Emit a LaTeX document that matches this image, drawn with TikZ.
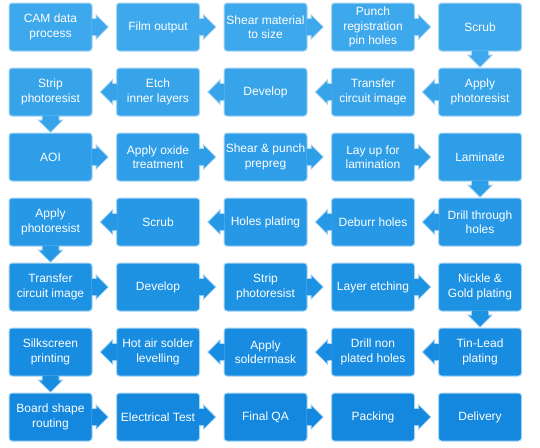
\documentclass[tikz,border=0pt]{standalone}
\usepackage{fontspec}
\setmainfont{Liberation Sans}
\usetikzlibrary{calc}
\definecolor{bd}{HTML}{A6D5F4}
\definecolor{rA}{HTML}{3DA8EB}
\definecolor{rB}{HTML}{37A4EA}
\definecolor{rC}{HTML}{2F9EE8}
\definecolor{rD}{HTML}{2698E6}
\definecolor{rE}{HTML}{1D92E3}
\definecolor{rF}{HTML}{178CE1}
\definecolor{rG}{HTML}{1388DE}
\tikzset{
  stepbox/.style={draw=bd, line width=1pt, rounded corners=3pt, minimum width=83pt, minimum height=48pt,
    align=center, text=white, font=\fontsize{12}{14.5}\selectfont, inner sep=0pt},
  arrowline/.style={draw=bd, line width=2pt, line join=miter},
}
% arrows: #1 node, #2 colour
\newcommand\arR[2]{%
  \begin{scope}[shift={(#1.east)}]
    \draw[arrowline] (0,-8) -- (4,-8) -- (4,-11) -- (15,0) -- (4,11) -- (4,8) -- (0,8);
    \fill[#2] (-1,-8) -- (4,-8) -- (4,-11) -- (15,0) -- (4,11) -- (4,8) -- (-1,8) -- cycle;
  \end{scope}}
\newcommand\arL[2]{%
  \begin{scope}[shift={(#1.west)}]
    \draw[arrowline] (0,-8) -- (-4,-8) -- (-4,-11) -- (-15,0) -- (-4,11) -- (-4,8) -- (0,8);
    \fill[#2] (1,-8) -- (-4,-8) -- (-4,-11) -- (-15,0) -- (-4,11) -- (-4,8) -- (1,8) -- cycle;
  \end{scope}}
\newcommand\arD[2]{%
  \begin{scope}[shift={(#1.south)}]
    \draw[arrowline] (-8,0) -- (-8,4) -- (-11,4) -- (0,15) -- (11,4) -- (8,4) -- (8,0);
    \fill[#2] (-8,-1) -- (-8,4) -- (-11,4) -- (0,15) -- (11,4) -- (8,4) -- (8,-1) -- cycle;
  \end{scope}}
\begin{document}
\begin{tikzpicture}[x=1pt,y=-1pt]
\useasboundingbox (0,0) rectangle (540,447);
% row 1
\node[stepbox,fill=rA] (a1) at (50.5,27) {CAM data\\process};
\node[stepbox,fill=rA] (a2) at (158,27) {Film output};
\node[stepbox,fill=rA] (a3) at (265.5,27) {Shear material\\to size};
\node[stepbox,fill=rA] (a4) at (373,27) {Punch\\registration\\pin holes};
\node[stepbox,fill=rA] (a5) at (480,27) {Scrub};
% row 2
\node[stepbox,fill=rB] (b1) at (50.5,92) {Strip\\photoresist};
\node[stepbox,fill=rB] (b2) at (158,92) {Etch\\inner layers};
\node[stepbox,fill=rB] (b3) at (265.5,92) {Develop};
\node[stepbox,fill=rB] (b4) at (373,92) {Transfer\\circuit image};
\node[stepbox,fill=rB] (b5) at (480,92) {Apply\\photoresist};
% row 3
\node[stepbox,fill=rC] (c1) at (50.5,157) {AOI};
\node[stepbox,fill=rC] (c2) at (158,157) {Apply oxide\\treatment};
\node[stepbox,fill=rC] (c3) at (265.5,157) {Shear \& punch\\prepreg};
\node[stepbox,fill=rC] (c4) at (373,157) {Lay up for\\lamination};
\node[stepbox,fill=rC] (c5) at (480,157) {Laminate};
% row 4
\node[stepbox,fill=rD] (d1) at (50.5,222) {Apply\\photoresist};
\node[stepbox,fill=rD] (d2) at (158,222) {Scrub};
\node[stepbox,fill=rD] (d3) at (265.5,222) {Holes plating};
\node[stepbox,fill=rD] (d4) at (373,222) {Deburr holes};
\node[stepbox,fill=rD] (d5) at (480,222) {Drill through\\holes};
% row 5
\node[stepbox,fill=rE] (e1) at (50.5,287) {Transfer\\circuit image};
\node[stepbox,fill=rE] (e2) at (158,287) {Develop};
\node[stepbox,fill=rE] (e3) at (265.5,287) {Strip\\photoresist};
\node[stepbox,fill=rE] (e4) at (373,287) {Layer etching};
\node[stepbox,fill=rE] (e5) at (480,287) {Nickle \&\\Gold plating};
% row 6
\node[stepbox,fill=rF] (f1) at (50.5,352) {Silkscreen\\printing};
\node[stepbox,fill=rF] (f2) at (158,352) {Hot air solder\\levelling};
\node[stepbox,fill=rF] (f3) at (265.5,352) {Apply\\soldermask};
\node[stepbox,fill=rF] (f4) at (373,352) {Drill non\\plated holes};
\node[stepbox,fill=rF] (f5) at (480,352) {Tin-Lead\\plating};
% row 7
\node[stepbox,fill=rG] (g1) at (50.5,417) {Board shape\\routing};
\node[stepbox,fill=rG] (g2) at (158,417) {Electrical Test};
\node[stepbox,fill=rG] (g3) at (265.5,417) {Final QA};
\node[stepbox,fill=rG] (g4) at (373,417) {Packing};
\node[stepbox,fill=rG] (g5) at (480,417) {Delivery};
% arrows
\arR{a1}{rA}\arR{a2}{rA}\arR{a3}{rA}\arR{a4}{rA}\arD{a5}{rA}
\arL{b5}{rB}\arL{b4}{rB}\arL{b3}{rB}\arL{b2}{rB}\arD{b1}{rB}
\arR{c1}{rC}\arR{c2}{rC}\arR{c3}{rC}\arR{c4}{rC}\arD{c5}{rC}
\arL{d5}{rD}\arL{d4}{rD}\arL{d3}{rD}\arL{d2}{rD}\arD{d1}{rD}
\arR{e1}{rE}\arR{e2}{rE}\arR{e3}{rE}\arR{e4}{rE}\arD{e5}{rE}
\arL{f5}{rF}\arL{f4}{rF}\arL{f3}{rF}\arL{f2}{rF}\arD{f1}{rF}
\arR{g1}{rG}\arR{g2}{rG}\arR{g3}{rG}\arR{g4}{rG}
\end{tikzpicture}
\end{document}
